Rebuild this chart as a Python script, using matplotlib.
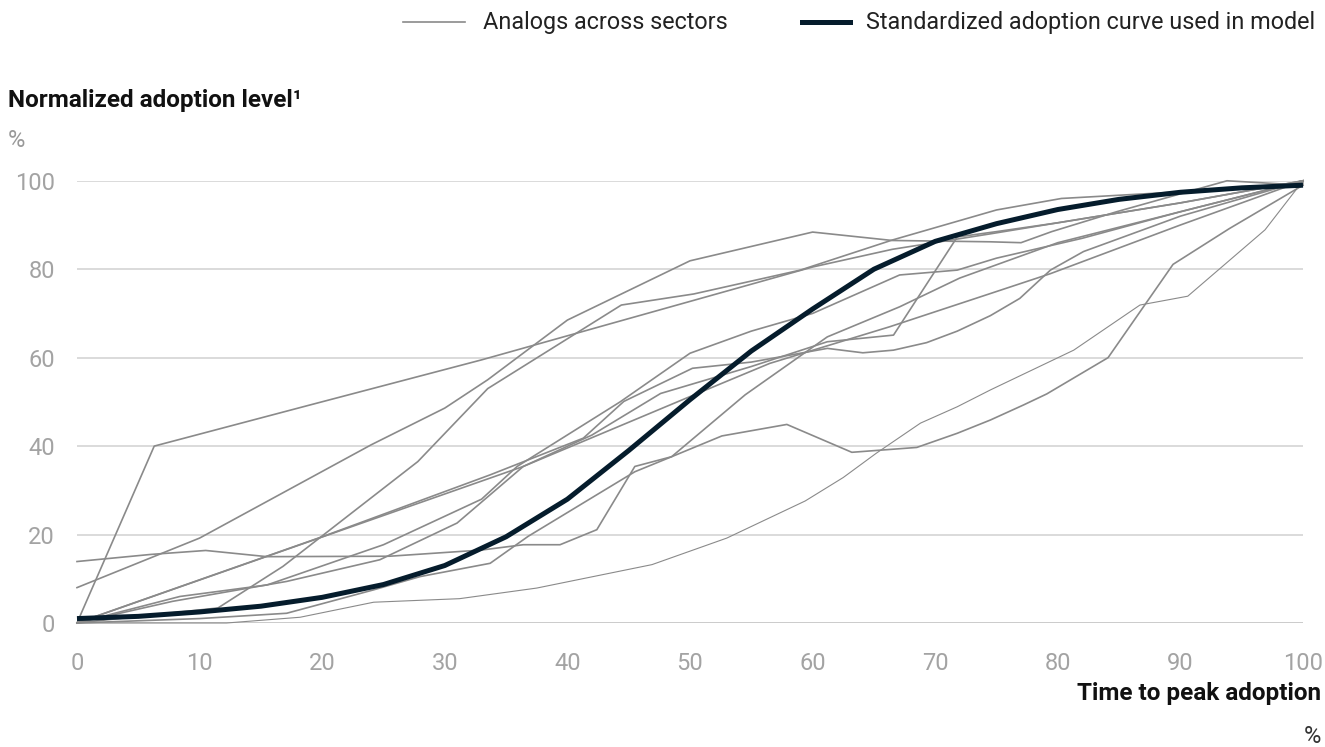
import matplotlib
matplotlib.use("Agg")
import matplotlib.pyplot as plt
from matplotlib.lines import Line2D

plt.rcParams['font.family'] = ['Roboto', 'DejaVu Sans']

# standardized adoption curve used in model
std_x = [0, 5, 10, 15, 20, 25, 30, 35, 40, 45, 50, 55, 60, 65, 70, 75, 80, 85, 90, 95, 100]
std_y = [1, 1.5, 2.5, 3.8, 5.8, 8.7, 13, 19.5, 28, 39, 50.5, 61.5, 71, 80, 86.3, 90.3, 93.5, 95.8, 97.4, 98.4, 99]

# analogs across sectors
jump_x = [0, 6.3, 19, 33, 60, 66.5, 74.5, 80, 90, 100]
jump_y = [0, 40, 49.3, 59.5, 80.5, 84.5, 88, 90.5, 95, 100]

peak_x = [0, 10, 24, 30, 33.5, 40, 50, 60, 66.5, 74.5, 77, 79.5, 84.8, 93.8, 100]
peak_y = [8, 19.2, 40.3, 48.6, 55, 68.5, 81.9, 88.4, 86.5, 86.2, 86, 88.5, 93, 100, 99]

steep_x = [0, 11.5, 16.8, 27.8, 33.5, 44.4, 50.3, 59, 66.5, 75, 80.3, 90, 100]
steep_y = [0, 3.4, 12.8, 36.5, 53, 71.9, 74.4, 79.8, 86.6, 93.4, 96, 97.5, 99.5]

dip_x = [0, 6, 10.5, 15.5, 25.5, 33, 36.4, 39.4, 42.4, 45.5, 48.5, 52.6, 57.9, 63.2, 68.5,
         71.8, 74.5, 77.2, 79.1, 84.1, 89.4, 94, 100]
dip_y = [13.9, 15.5, 16.4, 15, 15.1, 16.5, 17.7, 17.7, 21.1, 35.4, 37.6, 42.3, 44.9, 38.6, 39.7,
         42.9, 45.9, 49.3, 51.8, 60, 81.1, 89.2, 99]

low_x = [0, 12.2, 18.2, 24.2, 31.2, 37.5, 46.9, 53, 59.4, 62.5, 65.2, 68.8, 71.8, 74.5,
         81.3, 86.7, 90.6, 96.9, 100]
low_y = [0, 0, 1.3, 4.7, 5.5, 7.9, 13.2, 19.2, 27.6, 32.9, 38.4, 45.2, 48.9, 52.7,
         61.7, 71.9, 73.9, 88.9, 100]

plat_x = [0, 8.4, 20.1, 33.7, 41.3, 44.6, 50.2, 55, 61.2, 64.1, 66.6, 69.3, 71.8, 74.5,
          76.9, 79.4, 82.1, 90, 100]
plat_y = [0, 8.2, 19.6, 33.5, 41.8, 50.1, 57.6, 59, 62.1, 61.1, 61.7, 63.4, 66, 69.5,
          73.4, 79.8, 84, 92, 100]

mid_x = [0, 8.4, 15.5, 25, 33, 35.9, 44.3, 50, 55, 60, 67.1, 71.8, 75, 82, 90, 100]
mid_y = [0, 6, 8.6, 17.7, 28, 35.4, 50, 61, 66, 70, 78.7, 79.8, 82.5, 87, 93, 100]

kink_x = [0, 7.8, 17.1, 24.7, 31, 36.4, 42, 47.6, 55, 61.2, 66.6, 71.8, 75, 80, 90, 100]
kink_y = [0, 4.9, 9.4, 14.3, 22.6, 35.4, 42.5, 51.9, 58, 63.6, 65.1, 87.3, 88.5, 90.5, 95, 100]

diag_x = [0, 36.4, 50, 56.5, 66.3, 74.5, 79.4, 90, 100]
diag_y = [0, 35.4, 51.2, 58.7, 67, 74.5, 79, 90, 100]

late_x = [0, 10, 17.1, 24.2, 28, 33.7, 36.8, 42.4, 45.5, 48.5, 54.5, 61.2, 67.1, 72, 80, 90, 100]
late_y = [0, 1, 2.2, 7.5, 10.5, 13.5, 19.6, 29, 34.2, 37.6, 51.6, 64.7, 71.5, 78, 86, 93, 100]

analogs = [(jump_x, jump_y), (peak_x, peak_y), (steep_x, steep_y), (dip_x, dip_y),
           (plat_x, plat_y), (mid_x, mid_y), (kink_x, kink_y), (diag_x, diag_y),
           (late_x, late_y)]

grey = '#8a8a8a'
navy = '#051c2c'

fig = plt.figure(figsize=(13.25, 7.47), dpi=100)
ax = fig.add_axes([0.0581, 0.166, 0.9253, 0.592])

for xs, ys in analogs:
    ax.plot(xs, ys, color=grey, lw=1.2, clip_on=False, zorder=2)
ax.plot(low_x, low_y, color=grey, lw=0.8, clip_on=False, zorder=2)
ax.plot(std_x, std_y, color=navy, lw=3.6, clip_on=False, zorder=3,
        solid_capstyle='butt')

ax.set_xlim(0, 100)
ax.set_ylim(0, 100)
ax.set_xticks(range(0, 101, 10))
ax.set_yticks(range(0, 101, 20))
ax.grid(axis='y', color='#d4d4d4', lw=1.2, zorder=0)
ax.axhline(0, color='#8c8c8c', lw=1.8, zorder=1)
for s in ax.spines.values():
    s.set_visible(False)
ax.tick_params(length=0, labelsize=17, labelcolor='#a3a3a3')
ax.tick_params(axis='y', pad=16)
ax.tick_params(axis='x', pad=21)

fig.text(0.006, 0.866, 'Normalized adoption level\u00b9', fontsize=17.5, fontweight='semibold',
         color='#111111', va='center', ha='left')
fig.text(0.006, 0.812, '%', fontsize=17, color='#999999', va='center', ha='left')
fig.text(0.997, 0.072, 'Time to peak adoption', fontsize=17.5, fontweight='semibold',
         color='#111111', va='center', ha='right')
fig.text(0.997, 0.014, '%', fontsize=17, color='#333333', va='center', ha='right')

# legend
ly = 1 - 22 / 747
fig.add_artist(Line2D([403 / 1325, 465 / 1325], [ly, ly], color=grey, lw=1.2))
fig.text(483 / 1325, ly, 'Analogs across sectors', fontsize=16.8, color='#222222',
         va='center', ha='left')
fig.add_artist(Line2D([802 / 1325, 850 / 1325], [ly, ly], color=navy, lw=3.6))
fig.text(866 / 1325, ly, 'Standardized adoption curve used in model', fontsize=16.8,
         color='#222222', va='center', ha='left')

fig.savefig('out.png', dpi=100)
